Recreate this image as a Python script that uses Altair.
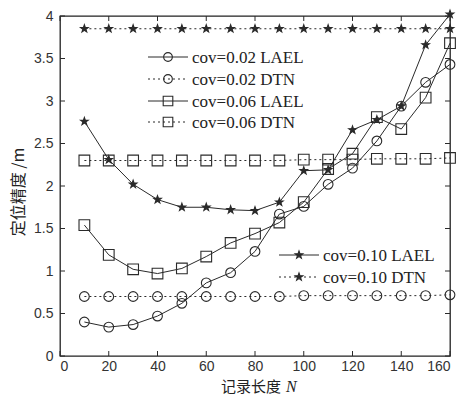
import altair as alt
import pandas as pd

N = [10, 20, 30, 40, 50, 60, 70, 80, 90, 100, 110, 120, 130, 140, 150, 160]

lael_002 = [0.40, 0.34, 0.37, 0.47, 0.62, 0.86, 0.98, 1.23, 1.67, 1.76, 2.02, 2.21, 2.53, 2.94, 3.22, 3.43]
dtn_002 = [0.70, 0.70, 0.70, 0.70, 0.70, 0.70, 0.70, 0.70, 0.70, 0.71, 0.71, 0.71, 0.71, 0.71, 0.71, 0.72]
lael_006 = [1.54, 1.19, 1.02, 0.97, 1.03, 1.17, 1.33, 1.44, 1.57, 1.81, 2.20, 2.38, 2.81, 2.67, 3.04, 3.68]
dtn_006 = [2.30, 2.30, 2.30, 2.30, 2.30, 2.30, 2.30, 2.30, 2.30, 2.31, 2.31, 2.31, 2.32, 2.32, 2.32, 2.33]
lael_010 = [2.76, 2.31, 2.02, 1.84, 1.75, 1.75, 1.72, 1.71, 1.81, 2.18, 2.19, 2.66, 2.78, 2.94, 3.66, 4.02]
dtn_010 = [3.85, 3.85, 3.85, 3.85, 3.85, 3.85, 3.85, 3.85, 3.85, 3.85, 3.85, 3.85, 3.85, 3.85, 3.85, 3.85]

labels = ["cov=0.02 LAEL", "cov=0.02 DTN", "cov=0.06 LAEL", "cov=0.06 DTN",
          "cov=0.10 LAEL", "cov=0.10 DTN"]
x_ticks = [0, 20, 40, 60, 80, 100, 120, 140, 160]
y_ticks = [0, 0.5, 1, 1.5, 2, 2.5, 3, 3.5, 4]

STAR = ("M0,-1L0.235,-0.324L0.951,-0.309L0.380,0.124L0.588,0.809L0,0.4"
        "L-0.588,0.809L-0.380,0.124L-0.951,-0.309L-0.235,-0.324Z")
INK = "#2a2a2a"
W, H = 390, 340

series = [
    (labels[0], lael_002, "circle", None, 95, False),
    (labels[1], dtn_002, "circle", [2, 3], 95, False),
    (labels[2], lael_006, "square", None, 115, False),
    (labels[3], dtn_006, "square", [2, 3], 115, False),
    (labels[4], lael_010, STAR, None, 65, True),
    (labels[5], dtn_010, STAR, [2, 3], 65, True),
]

xs = alt.Scale(domain=[0, 160], nice=False, zero=False)
ys = alt.Scale(domain=[0, 4], nice=False, zero=False)

layers = []

# axes carrier (invisible)
axis_df = pd.DataFrame({"N": [0, 160], "v": [0, 4]})
base_axes = alt.Chart(axis_df).mark_point(opacity=0).encode(
    x=alt.X("N:Q", scale=xs, title=None,
            axis=alt.Axis(values=x_ticks, format="d", labelFont="Liberation Sans",
                          labelFontSize=14, labelColor="#333", ticks=False,
                          labelPadding=3, domain=False, grid=False)),
    y=alt.Y("v:Q", scale=ys, title=None,
            axis=alt.Axis(values=y_ticks, format="~g", labelFont="Liberation Sans",
                          labelFontSize=14, labelColor="#333", ticks=False,
                          labelPadding=7, domain=False, grid=False)),
)
layers.append(base_axes)

for name, vals, shape, dash, size, filled in series:
    df = pd.DataFrame({"N": N, "v": vals, "s": name})
    line_kw = dict(color=INK, strokeWidth=1)
    if dash:
        line_kw["strokeDash"] = dash
    layers.append(alt.Chart(df).mark_line(**line_kw).encode(
        x=alt.X("N:Q", scale=xs), y=alt.Y("v:Q", scale=ys)))
    pt_kw = dict(shape=shape, size=size, strokeWidth=1.1, opacity=1)
    if filled:
        pt_kw.update(filled=True, color=INK, stroke=INK)
    else:
        pt_kw.update(filled=False, color=INK)
    layers.append(alt.Chart(df).mark_point(**pt_kw).encode(
        x=alt.X("N:Q", scale=xs), y=alt.Y("v:Q", scale=ys)))

# inward ticks
xt = pd.DataFrame({"t": x_ticks})
yt = pd.DataFrame({"t": y_ticks})
layers.append(alt.Chart(xt).mark_rule(color=INK, strokeWidth=1).encode(
    x=alt.X("t:Q", scale=xs), y=alt.value(H), y2=alt.value(H - 5)))
layers.append(alt.Chart(xt).mark_rule(color=INK, strokeWidth=1).encode(
    x=alt.X("t:Q", scale=xs), y=alt.value(0), y2=alt.value(5)))
layers.append(alt.Chart(yt).mark_rule(color=INK, strokeWidth=1).encode(
    y=alt.Y("t:Q", scale=ys), x=alt.value(0), x2=alt.value(5)))
layers.append(alt.Chart(yt).mark_rule(color=INK, strokeWidth=1).encode(
    y=alt.Y("t:Q", scale=ys), x=alt.value(W), x2=alt.value(W - 5)))

# legends
one = pd.DataFrame({"k": [0]})
def legend_entry(label, shape, dash, size, filled, x0, y):
    out = []
    kw = dict(color=INK, strokeWidth=1)
    if dash:
        kw["strokeDash"] = dash
    out.append(alt.Chart(one).mark_rule(**kw).encode(
        x=alt.value(x0), x2=alt.value(x0 + 40), y=alt.value(y)))
    pk = dict(shape=shape, size=size, strokeWidth=1.1, opacity=1)
    if filled:
        pk.update(filled=True, color=INK, stroke=INK)
    else:
        pk.update(filled=False, color=INK)
    out.append(alt.Chart(one).mark_point(**pk).encode(
        x=alt.value(x0 + 20), y=alt.value(y)))
    out.append(alt.Chart(one).mark_text(
        text=label, font="Liberation Serif", fontSize=17, color="#222",
        align="left", baseline="middle").encode(
        x=alt.value(x0 + 44), y=alt.value(y + 1)))
    return out

leg1_y = [41, 63, 85, 106]
for i in range(4):
    name, _, shape, dash, size, filled = series[i]
    layers += legend_entry(name, shape, dash, size * 0.8, filled, 88, leg1_y[i])
leg2_y = [239, 261]
for j, i in enumerate([4, 5]):
    name, _, shape, dash, size, filled = series[i]
    layers += legend_entry(name, shape, dash, size, filled, 219, leg2_y[j])

# axis titles
layers.append(alt.Chart(one).mark_text(
    text="定位精度 /m", font="Noto Sans CJK SC", fontSize=16, color="#222",
    angle=270, align="center", baseline="middle").encode(
    x=alt.value(-41), y=alt.value(176)))
layers.append(alt.Chart(one).mark_text(
    text="记录长度", font="Noto Sans CJK SC", fontSize=15, color="#222",
    align="right", baseline="middle").encode(
    x=alt.value(221), y=alt.value(371)))
layers.append(alt.Chart(one).mark_text(
    text="N", font="Liberation Serif", fontSize=16, fontStyle="italic", color="#222",
    align="left", baseline="middle").encode(
    x=alt.value(226), y=alt.value(371)))

chart = alt.layer(*layers).properties(
    width=W, height=H,
    padding={"left": 60, "top": 16, "right": 20, "bottom": 39},
    autosize=alt.AutoSizeParams(type="none"),
    background="white",
).configure_view(stroke="#222", strokeWidth=1.3)

chart.save("out.html", embed_options={"renderer": "svg", "actions": False})
